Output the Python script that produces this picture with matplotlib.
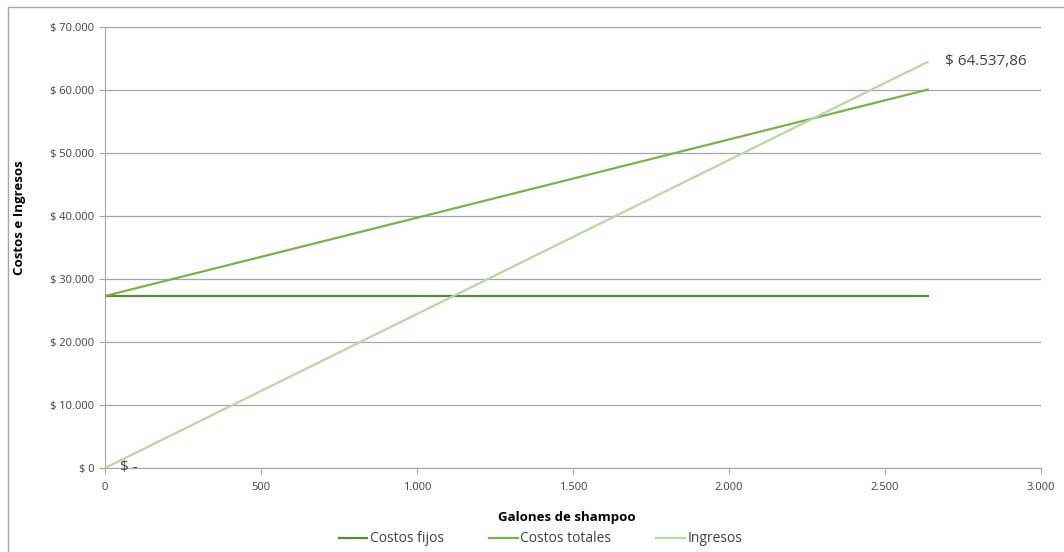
import matplotlib.pyplot as plt
from matplotlib.patches import Rectangle
from matplotlib.ticker import FuncFormatter

# punto de equilibrio: galones vs costos e ingresos
galones = [0, 2640]
costos_fijos = [27300, 27300]
costos_totales = [27300, 60100]
ingresos = [0, 64537.86]
series = ['Costos fijos', 'Costos totales', 'Ingresos']
colores = ['#5c883b', '#78b24a', '#b9d7a5']

plt.rcParams['font.family'] = ['Open Sans', 'DejaVu Sans']


def miles(v):
    return f'{v:,.0f}'.replace(',', '.')


def pesos(v):
    return '$ ' + f'{v:,.2f}'.replace(',', 'X').replace('.', ',').replace('X', '.')


fig = plt.figure(figsize=(10.64, 5.52), dpi=100)
fig.patches.append(Rectangle((8 / 1064, -0.1), 1.2, 1.1 - 7 / 552,
                             transform=fig.transFigure, fill=False,
                             edgecolor='#a6a6a6', linewidth=1.0))
ax = fig.add_axes([105 / 1064, 1 - 468 / 552, 936 / 1064, 441 / 552])

for datos, nombre, c in zip([costos_fijos, costos_totales, ingresos], series, colores):
    ax.plot(galones, datos, color=c, linewidth=1.6, label=nombre,
            solid_capstyle='butt', zorder=3)

ax.set_xlim(0, 3000)
ax.set_ylim(0, 70000)
ax.set_xticks(range(0, 3001, 500))
ax.set_yticks(range(0, 70001, 10000))
ax.xaxis.set_major_formatter(FuncFormatter(lambda v, p: miles(v)))
ax.yaxis.set_major_formatter(FuncFormatter(lambda v, p: '$ ' + miles(v)))
ax.grid(axis='y', color='#a6a6a6', linewidth=0.9)
ax.set_axisbelow(True)
for s in ['top', 'right']:
    ax.spines[s].set_visible(False)
for s in ['left', 'bottom']:
    ax.spines[s].set_color('#a6a6a6')
ax.tick_params(axis='both', colors='#a6a6a6', labelcolor='#404040',
               labelsize=8, length=4)
ax.tick_params(axis='x', pad=6)

# etiquetas del primer y ultimo ingreso
ax.annotate('$ -', (galones[0], ingresos[0]), xytext=(11, 0),
            textcoords='offset points', fontsize=11, color='#404040',
            va='center', ha='left')
ax.annotate(pesos(ingresos[-1]), (galones[-1], ingresos[-1]), xytext=(12, 0),
            textcoords='offset points', fontsize=11, color='#404040',
            va='center', ha='left')

fig.text(20 / 1064, 1 - 218 / 552, 'Costos e Ingresos', rotation=90,
         ha='center', va='center', fontsize=9.5, fontweight='bold')
fig.text(567 / 1064, 1 - 518 / 552, 'Galones de shampoo',
         ha='center', va='center', fontsize=9.5, fontweight='bold')
fig.legend(loc='center', bbox_to_anchor=(540 / 1064, 1 - 539 / 552), ncol=3,
           frameon=False, fontsize=10, handlelength=2.2, handletextpad=0.1,
           columnspacing=3.2, labelcolor='#404040')

fig.savefig('out.png', dpi=100)
